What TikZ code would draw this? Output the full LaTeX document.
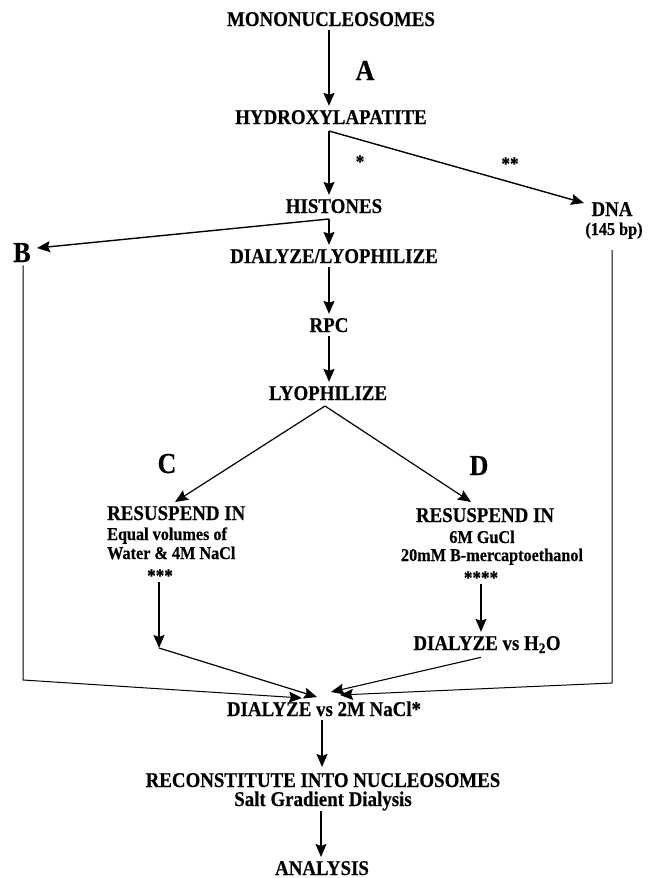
\documentclass[tikz,border=0pt]{standalone}
\usepackage{fontspec}
\setmainfont{Liberation Serif}[FakeStretch=0.9, BoldFeatures={FakeBold=0.4}]
\usetikzlibrary{arrows.meta}
\begin{document}
\begin{tikzpicture}[x=1pt,y=-1pt,
  lbl/.style={font=\bfseries\fontsize{21}{24}\selectfont, inner sep=4pt, anchor=base},
  sub/.style={font=\bfseries\fontsize{18}{20}\selectfont, inner sep=2pt, anchor=base},
  big/.style={font=\bfseries\fontsize{29}{32}\selectfont, inner sep=3pt, anchor=base},
  star/.style={font=\bfseries\fontsize{19}{20}\selectfont, inner sep=0pt, anchor=base},
  arr/.style={-{Stealth[length=13pt,width=11pt,inset=2pt]}, line width=1.4pt},
  ln/.style={line width=1pt}]
\useasboundingbox (0,0) rectangle (652,878);
% nodes
\node[lbl] (mono) at (331,26) {MONONUCLEOSOMES};
\node[big] (A) at (365,80) {A};
\node[lbl] (hydrox) at (331,124) {HYDROXYLAPATITE};
\node[star] (s1) at (360,168) {*};
\node[star] (s2) at (510,170) {**};
\node[lbl] (hist) at (334,213) {HISTONES};
\node[lbl] (dna) at (612,216) {DNA};
\node[sub] (bp) at (614,235) {(145 bp)};
\node[big] (B) at (22,262) {B};
\node[lbl] (dialyo) at (334,263) {DIALYZE/LYOPHILIZE};
\node[lbl] (rpc) at (329,332) {RPC};
\node[lbl] (lyo) at (328,400) {LYOPHILIZE};
\node[big] (C) at (167,473) {C};
\node[big] (D) at (479,475) {D};
\node[lbl, anchor=base west, inner sep=2pt] (resL) at (105,520) {RESUSPEND IN};
\node[sub, anchor=base west] (eq) at (105,540) {Equal volumes of};
\node[sub, anchor=base west] (wat) at (105,559) {Water \& 4M NaCl};
\node[star] (s3) at (160,582) {***};
\node[lbl] (resR) at (485,522) {RESUSPEND IN};
\node[sub] (gucl) at (482,543) {6M GuCl};
\node[sub] (merc) at (492,561) {20mM B-mercaptoethanol};
\node[star] (s4) at (481,584) {****};
\node[lbl] (dh2o) at (487,650) {DIALYZE vs H\textsubscript{2}O};
\node[lbl] (d2m) at (324,716) {DIALYZE vs 2M NaCl*};
\node[lbl, inner sep=0.5pt] (recon) at (323,787) {RECONSTITUTE INTO NUCLEOSOMES};
\node[lbl, inner sep=0.5pt] (salt) at (323,806) {Salt Gradient Dialysis};
\node[lbl] (anal) at (322,875) {ANALYSIS};
% junctions and tips
\coordinate (h1) at (329,131);
\coordinate (h2) at (329,219);
\coordinate (dnatip) at (584,203);
\coordinate (btip) at (37,248);
\coordinate (ly) at (325,406);
\coordinate (ctip) at (175,502);
\coordinate (dtip) at (471,502);
\coordinate (cL) at (159,648);
\coordinate (bc) at (23,680);
\coordinate (dtop) at (612,250);
\coordinate (dc) at (612,683);
\coordinate (mt1) at (302,698);
\coordinate (mt2) at (317,697);
\coordinate (mt3) at (331,692);
\coordinate (mt4) at (340,695);
\coordinate (rtop) at (322,722);
\coordinate (rtip) at (322,767);
\coordinate (atop) at (321,810);
\coordinate (atip) at (321,857);
% connectors
\draw[arr, line width=2pt] (mono.south -| h1) -- (hydrox.north -| h1);
\draw[arr] (h1) -- (hist.north -| h1);
\draw[arr] (h1) -- (dnatip);
\draw[arr] (h2) -- (btip);
\draw[arr] (h2) -- (dialyo.north -| h2);
\draw[arr] (dialyo.south -| rpc) -- (rpc.north);
\draw[arr, line width=1.8pt] (rpc.south) -- (lyo.north -| rpc.south);
\draw[arr, line width=1.2pt] (ly) -- (ctip);
\draw[arr, line width=1.2pt] (ly) -- (dtip);
\draw[arr] (s3.south -| cL) -- (cL);
\draw[arr, line width=1.2pt] (cL) -- (mt2);
\draw[arr] (s4.south) -- (dh2o.north -| s4.south);
\draw[arr, line width=1.1pt] (dh2o.south -| s4.south) -- (mt3);
\draw[arr, ln] (B.south -| bc) -- (bc) -- (mt1);
\draw[arr, ln] (dtop) -- (dc) -- (mt4);
\draw[arr] (d2m.south -| rtop) -- (rtip);
\draw[arr] (salt.south -| atop) -- (atip);
\end{tikzpicture}
\end{document}
